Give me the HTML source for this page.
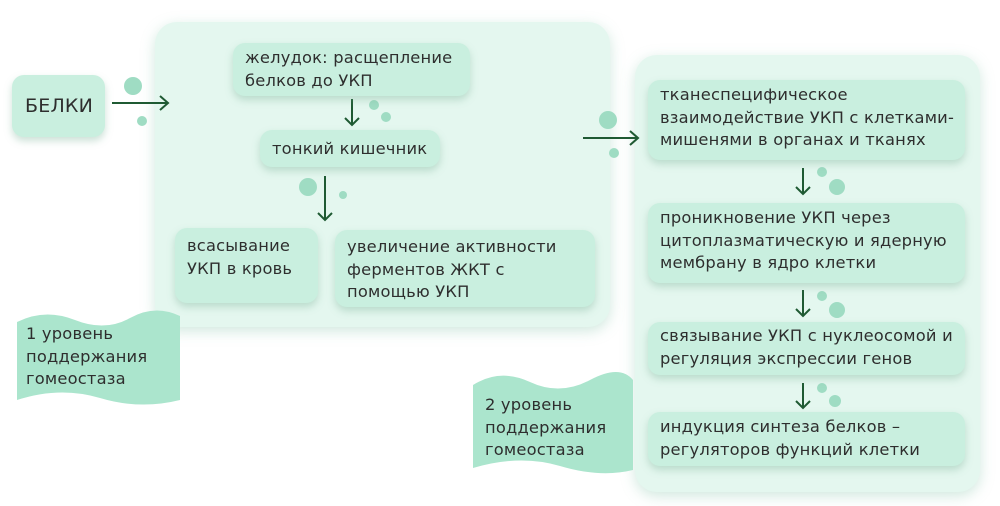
<!DOCTYPE html>
<html><head><meta charset="utf-8"><style>
body{margin:0;width:1000px;height:506px;background:#fff;position:relative;overflow:hidden;font-family:"DejaVu Sans","Liberation Sans",sans-serif;color:#2e2e2e;}
.p{position:absolute;background:#e4f7ef;border-radius:22px;box-shadow:0 4px 14px rgba(120,190,160,.35);}
.b{position:absolute;background:#c9efdf;border-radius:12px;box-shadow:0 4px 8px rgba(110,170,140,.35);font-size:16.3px;line-height:22.5px;letter-spacing:0.2px;padding:0 12px;box-sizing:border-box;white-space:nowrap;}
.t{position:absolute;font-size:16.3px;line-height:22.5px;letter-spacing:0.2px;}
svg{position:absolute;left:0;top:0;}
</style></head><body>
<div class="p" style="left:155px;top:22px;width:455px;height:305px"></div>
<div class="p" style="left:635px;top:55px;width:345px;height:437px"></div>
<svg width="1000" height="506">
<path d="M17 322 Q45 308 75 320 T130 318 T180 316 L180 400 Q140 410 100 398 T17 400 Z" fill="#abe5cd"/>
<path d="M473 385 Q500 368 530 382 T590 380 T633 380 L633 470 Q600 478 560 466 T473 468 Z" fill="#abe5cd"/>
<g stroke="#1f5a33" stroke-width="2" fill="none">
<path d="M112 103H168M160 96l8 7-8 7"/>
<path d="M583 138H638M630 131l8 7-8 7"/>
<path d="M352 99V125M345 118l7 7 7-7"/>
<path d="M325 176V220M318 213l7 7 7-7"/>
<path d="M803 168V194M796 187l7 7 7-7"/>
<path d="M803 290V316M796 309l7 7 7-7"/>
<path d="M803 383V408M796 401l7 7 7-7"/>
</g>
<g fill="#9fdcc3">
<circle cx="133" cy="86" r="9"/><circle cx="142" cy="121" r="5"/>
<circle cx="608" cy="120" r="9"/><circle cx="614" cy="153" r="5"/>
<circle cx="374" cy="105" r="5"/><circle cx="386" cy="117" r="5"/>
<circle cx="308" cy="187" r="9"/><circle cx="343" cy="195" r="4"/>
<circle cx="822" cy="172" r="5"/><circle cx="837" cy="187" r="8"/>
<circle cx="822" cy="296" r="5"/><circle cx="837" cy="310" r="8"/>
<circle cx="822" cy="388" r="5"/><circle cx="835" cy="401" r="6"/>
</g>
</svg>
<div class="b" style="left:12px;top:75px;width:93px;height:62px;font-size:19px;line-height:62px;padding-left:13px">БЕЛКИ</div>
<div class="b" style="left:233px;top:43px;width:237px;height:53px;padding-top:4px">желудок: расщепление<br>белков до УКП</div>
<div class="b" style="left:260px;top:130px;width:180px;height:37px;line-height:37px">тонкий кишечник</div>
<div class="b" style="left:175px;top:228px;width:143px;height:75px;padding-top:7px">всасывание<br>УКП в кровь</div>
<div class="b" style="left:335px;top:230px;width:260px;height:77px;padding-top:6px">увеличение активности<br>ферментов ЖКТ с<br>помощью УКП</div>
<div class="b" style="left:648px;top:80px;width:317px;height:80px;padding-top:4px">тканеспецифическое<br>взаимодействие УКП с клетками-<br>мишенями в органах и тканях</div>
<div class="b" style="left:648px;top:203px;width:317px;height:80px;padding-top:4px">проникновение УКП через<br>цитоплазматическую и ядерную<br>мембрану в ядро клетки</div>
<div class="b" style="left:648px;top:322px;width:317px;height:53px;padding-top:3px">связывание УКП с нуклеосомой и<br>регуляция экспрессии генов</div>
<div class="b" style="left:648px;top:412px;width:317px;height:54px;padding-top:4px">индукция синтеза белков –<br>регуляторов функций клетки</div>
<div class="t" style="left:26px;top:323px">1 уровень<br>поддержания<br>гомеостаза</div>
<div class="t" style="left:485px;top:394px">2 уровень<br>поддержания<br>гомеостаза</div>
</body></html>
